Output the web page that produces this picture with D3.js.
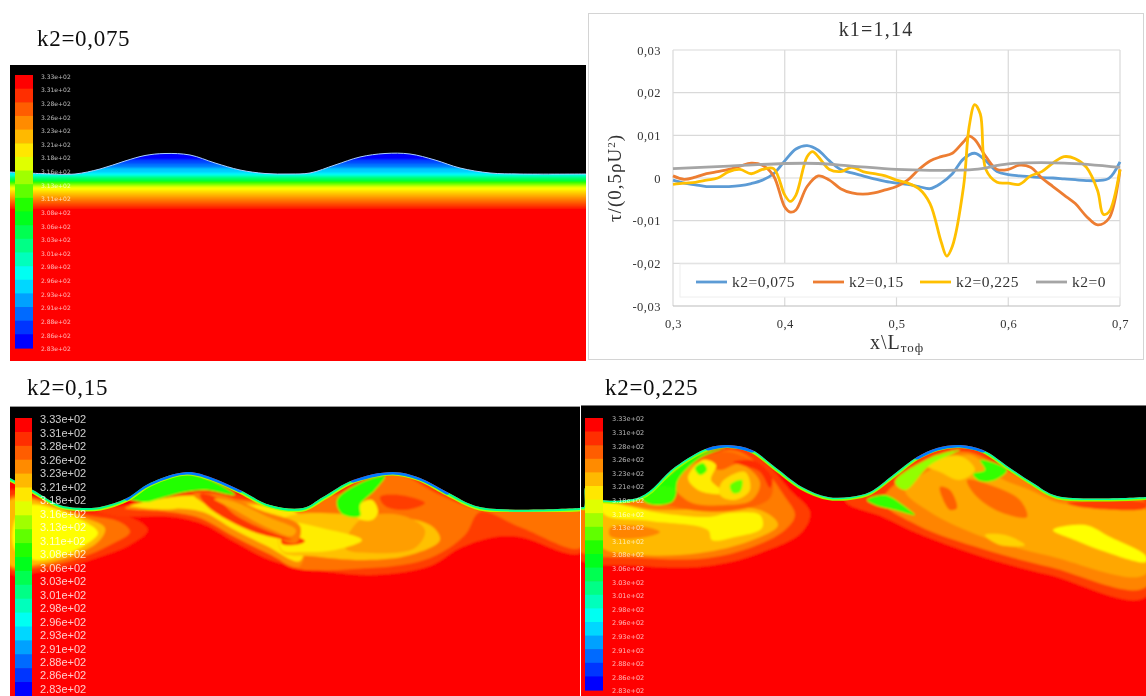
<!DOCTYPE html>
<html><head><meta charset="utf-8">
<script src="https://cdn.jsdelivr.net/npm/d3@7/dist/d3.min.js"></script>
<style>html,body{margin:0;padding:0;background:#fff}svg{display:block}text{font-family:"Liberation Serif",serif}</style>
</head><body><svg id="c" width="1146" height="696"></svg>
<script>
// ---------- chart data ----------
const xTicks=[0.3,0.4,0.5,0.6,0.7];
const yTicks=[-0.03,-0.02,-0.01,0,0.01,0.02,0.03];
const seriesNames=["k2=0,075","k2=0,15","k2=0,225","k2=0"];
const seriesColors=["#5b9bd5","#ed7d31","#ffc000","#a5a5a5"];
const blueX=[.30,.31,.32,.33,.34,.35,.36,.37,.38,.39,.40,.41,.42,.43,.44,.45,.46,.47,.48,.49,.50,.51,.52,.53,.54,.55,.56,.57,.58,.59,.60,.61,.62,.63,.64,.65,.66,.67,.68,.69,.70];
const blueY=[-.0005,-.0012,-.0016,-.002,-.002,-.002,-.0018,-.0013,-.0005,.001,.004,.0068,.0076,.0065,.004,.002,.0012,.0005,-.0002,-.0008,-.0012,-.0015,-.002,-.0025,-.0012,.001,.0045,.0058,.004,.0015,.0008,.0005,.0003,.0001,0,-.0002,-.0004,-.0006,-.0006,-.0001,.0038];
const orangeX=[.30,.31,.32,.33,.34,.35,.36,.37,.38,.39,.40,.405,.41,.42,.43,.44,.45,.46,.47,.48,.49,.50,.51,.52,.53,.54,.55,.56,.565,.57,.58,.59,.60,.61,.62,.63,.64,.65,.66,.67,.68,.69,.70];
const orangeY=[.0005,-.0003,.0002,.001,.0015,.002,.0028,.0035,.003,.0005,-.0068,-.008,-.0075,-.002,.0005,-.0005,-.0025,-.0035,-.0038,-.0035,-.0028,-.002,-.0005,.002,.004,.005,.0058,.0085,.0098,.009,.005,.002,.002,.003,.0025,0,-.002,-.004,-.006,-.009,-.011,-.0095,.002];
const yellowX=[.30,.31,.32,.33,.34,.35,.36,.37,.38,.39,.40,.405,.41,.42,.425,.43,.44,.45,.46,.47,.48,.49,.50,.51,.52,.53,.54,.545,.55,.56,.565,.57,.575,.58,.59,.60,.61,.62,.63,.64,.65,.66,.67,.68,.685,.69,.70];
const yellowY=[-.0015,-.0012,-.001,-.0005,0,.0015,.002,.001,.002,.0022,-.004,-.0055,-.004,.005,.0062,.005,.002,.0015,.0025,.0015,.001,.0005,-.0005,-.0012,-.0025,-.006,-.015,-.0183,-.016,-.002,.012,.0172,.015,.002,-.001,-.0012,-.0015,.0005,.0015,.0035,.005,.0045,.0025,-.003,-.0085,-.008,.002];
const grayX=[.30,.35,.40,.43,.46,.50,.53,.57,.60,.65,.70];
const grayY=[.0022,.0028,.0034,.0034,.0028,.002,.0018,.002,.0033,.0035,.0025];

// ---------- colour bar data ----------
const barLabels=["3.33e+02","3.31e+02","3.28e+02","3.26e+02","3.23e+02","3.21e+02","3.18e+02","3.16e+02","3.13e+02","3.11e+02","3.08e+02","3.06e+02","3.03e+02","3.01e+02","2.98e+02","2.96e+02","2.93e+02","2.91e+02","2.88e+02","2.86e+02","2.83e+02"];
const colorStops=[0,.29,.5,.75,1];
const colorValues=["#ff0000","#ffff00","#00ff00","#00ffff","#0000ff"];

// ---------- field data: level t (0 hot .. 1 cold), contour outline in image units ----------
const surf1=[[10,172],[50,174],[75,174],[100,169],[125,161],[145,155.5],[165,153.5],[190,155],[215,163],[240,170],[265,173.5],[290,174],[310,173],[335,165],[360,157],[385,153.5],[410,154],[435,160],[460,168],[490,173],[520,174],[586,174]];
const bands1T=[1,.93,.88,.8,.75,.68,.6,.5,.42,.35,.29,.25,.21,.17,.13,.09,.05];
const bands1Y=[150,160,164,168,173,175,177,180,183,185,187,190,193,196,199,202,205];
const surf2=[[10,478],[33,490],[60,505],[85,508],[100,507],[127,498],[150,483],[187,472],[210,477],[240,490],[270,505],[303,508],[323,497],[353,480],[393,472],[420,478],[447,492],[480,507],[580,508]];
const layers2=[
 [.06,[[10,490],[40,505],[85,512],[130,517],[148,530],[130,545],[100,557],[70,566],[33,573],[10,573]]],
 [.13,[[10,497],[85,515],[120,522],[130,532],[110,545],[80,558],[35,568],[10,568]]],
 [.21,[[10,500],[85,518],[105,528],[100,540],[75,555],[35,565],[10,565]]],
 [.29,[[30,505],[85,522],[98,533],[85,545],[60,556],[35,560],[15,550],[15,520]]],
 [.07,[[85,508],[130,505],[190,480],[240,495],[285,505],[310,505],[360,480],[395,468],[440,485],[490,506],[580,506],[580,553],[520,537],[495,537],[460,548],[430,566],[370,575],[300,567],[270,560],[233,541],[205,525],[175,517],[120,516]]],
 [.13,[[282,510],[360,490],[395,474],[440,495],[480,510],[580,512],[580,548],[520,527],[480,512],[465,535],[430,558],[370,568],[282,562]]],
 [.16,[[125,508],[190,495],[240,500],[300,512],[300,566],[267,553],[233,536],[200,518],[170,512]]],
 [.26,[[130,506],[190,496],[240,503],[300,516],[300,561],[267,546],[233,529],[203,512],[170,508]]],
 [.22,[[282,520],[360,515],[430,525],[440,540],[410,555],[365,560],[310,556],[282,552]]],
 [.18,[[360,520],[400,515],[425,530],[415,548],[370,553],[345,548]]],
 [.27,[[282,524],[330,530],[362,540],[335,550],[300,552],[282,550]]],
 [.07,[[282,537],[300,538],[305,541],[300,544],[282,544]]],
 [.14,[[193,494],[222,495],[260,510],[300,526],[296,543],[262,530],[230,517],[205,504]]],
 [.06,[[200,494],[215,497],[235,515],[265,530],[292,540],[260,534],[228,520],[206,505]]],
 [.19,[[214,499],[232,501],[268,517],[296,530],[292,536],[262,525],[235,510]]],
 [.26,[[135,506],[165,498],[190,497],[178,508]]],
 [.27,[[358,505],[372,500],[378,512],[372,520],[358,518]]],
 [.07,[[380,497],[400,495],[425,503],[405,510],[385,506]]],
 [.47,[[127,497],[150,482],[187,474],[215,482],[235,495],[205,490],[185,492],[165,497],[145,502]]],
 [.47,[[337,500],[360,483],[385,476],[375,490],[360,505],[360,516],[342,514]]]
];
const strips2=[[.36,7],[.64,4]];
const humps2=[[127,250],[335,460]];
const surf3=[[581,507],[584,507],[585,488],[590,497],[640,497],[675,467],[708,448],[728,445],[752,450],[775,467],[802,487],[828,497],[850,497],[870,492],[893,475],[917,457],[937,448],[960,445],[983,450],[1010,468],[1033,483],[1057,496],[1146,497]];
const layers3=[
 [.07,[[575,490],[640,490],[728,440],[765,462],[790,490],[810,512],[802,532],[760,553],[708,566],[642,566],[575,556]]],
 [.14,[[575,495],[650,495],[728,450],[760,465],[785,497],[795,515],[785,530],[755,546],[708,558],[642,558],[575,548]]],
 [.21,[[590,505],[660,510],[760,510],[778,525],[750,541],[700,553],[640,555],[600,546]]],
 [.28,[[600,503],[660,513],[708,517],[730,513],[760,515],[762,528],[735,537],[712,540],[708,530],[650,521],[605,515]]],
 [.15,[[610,528],[640,526],[660,532],[640,538],[610,536]]],
 [.11,[[650,497],[680,468],[728,452],[770,475],[770,498],[730,511],[680,508]]],
 [.18,[[672,482],[700,462],[720,470],[740,464],[760,482],[752,500],[725,505],[690,502]]],
 [.27,[[688,478],[703,460],[716,465],[711,480],[725,493],[700,491]]],
 [.25,[[722,482],[745,472],[750,490],[735,500],[720,495]]],
 [.45,[[695,468],[703,463],[707,470],[700,475]]],
 [.42,[[730,485],[742,480],[740,492],[733,493]]],
 [.05,[[733,462],[755,461],[772,478],[770,488],[760,472],[745,466]]],
 [.47,[[642,498],[665,478],[695,456],[725,448],[700,458],[678,480],[674,498],[650,504]]],
 [.46,[[642,497],[662,486],[676,490],[672,502],[650,504]]],
 [.07,[[845,500],[960,440],[1010,465],[1057,492],[1146,492],[1146,597],[1050,575],[983,557],[917,533],[883,517]]],
 [.15,[[883,500],[960,452],[1010,472],[1057,497],[1146,503],[1146,587],[1050,567],[983,549],[917,525]]],
 [.19,[[930,470],[970,455],[1000,478],[1030,490],[1060,503],[1146,510],[1146,574],[1050,556],[983,537],[930,512],[905,490]]],
 [.12,[[967,480],[990,485],[1020,500],[1027,517],[1000,512],[975,495]]],
 [.11,[[940,487],[950,490],[957,508],[950,510],[942,497]]],
 [.24,[[985,535],[1005,535],[1025,545],[1000,545]]],
 [.29,[[1053,530],[1085,525],[1110,537],[1146,556],[1146,562],[1100,550],[1075,540]]],
 [.24,[[925,465],[960,456],[975,470],[960,480],[940,472]]],
 [.46,[[867,500],[885,495],[907,508],[915,515],[895,510],[875,505]]],
 [.46,[[973,474],[985,470],[980,460],[1007,470],[995,480],[980,481]]],
 [.38,[[895,482],[930,458],[960,450],[930,465],[905,490]]],
 [.07,[[1067,503],[1146,503],[1146,508],[1080,507]]]
];
const strips3=[[.38,6],[.66,3]];
const humps3=[[690,765],[905,1000]];

// ---------- panel frames ----------
const panels=[
 {x0:10,x1:586,y0:65,y1:361,bx:15,bw:18,by0:75,by1:348,ly0:76.5,ly1:349,lx:41,fs:6,op:.7,ff:"'DejaVu Sans',sans-serif"},
 {x0:10,x1:580,y0:407,y1:696,bx:15,bw:17,by0:418,by1:696,ly0:419.5,ly1:689,lx:40,fs:11,op:.8,ff:"'Liberation Sans',sans-serif"},
 {x0:581,x1:1146,y0:406,y1:696,bx:585,bw:18,by0:418,by1:690,ly0:419,ly1:691,lx:612,fs:6.5,op:.7,ff:"'DejaVu Sans',sans-serif"}
];

const svg=d3.select("#c");
const defs=svg.append("defs");
const blur=(id,s)=>defs.append("filter").attr("id",id).attr("x","-5%").attr("y","-5%").attr("width","110%").attr("height","110%").append("feGaussianBlur").attr("stdDeviation",s);
blur("b1",1.1);blur("b2",.6);blur("b3",.55);blur("b4",.4);
const tColor=d3.scaleLinear().domain(colorStops).range(colorValues).interpolate(d3.interpolateRgb).clamp(true);

function drawField(i,surface,drawInside){
 const p=panels[i];
 const X=d3.scaleLinear().domain([p.x0,p.x1]).range([p.x0,p.x1]);
 const Y=d3.scaleLinear().domain([p.y0,p.y1]).range([p.y0,p.y1]);
 const open=d3.line().x(d=>X(d[0])).y(d=>Y(d[1])).curve(d3.curveCatmullRom.alpha(.5));
 const closed=d3.line().x(d=>X(d[0])).y(d=>Y(d[1])).curve(d3.curveCatmullRomClosed.alpha(.5));
 const g=svg.append("g");
 g.append("rect").attr("x",X(p.x0)).attr("y",Y(p.y0)).attr("width",X(p.x1)-X(p.x0)).attr("height",Y(p.y1)-Y(p.y0)).attr("fill","#000");
 defs.append("clipPath").attr("id","clipS"+i).append("path")
   .attr("d",open(surface)+`L${X(p.x1)},${Y(p.y1)}L${X(p.x0)},${Y(p.y1)}Z`);
 defs.append("clipPath").attr("id","clipP"+i).append("rect").attr("x",X(p.x0)).attr("y",Y(p.y0)).attr("width",X(p.x1)-X(p.x0)).attr("height",Y(p.y1)-Y(p.y0));
 const outer=g.append("g").attr("clip-path",`url(#clipP${i})`);
 const inner=outer.append("g").attr("clip-path",`url(#clipS${i})`);
 const h=inner.append("g").attr("filter","url(#b1)");
 drawInside(h,{X,Y,open,closed,p});
 return {g,inner,X,Y,open,closed,p};
}
function drawBar(ctx){
 const p=ctx.p;
 const g=svg.append("g").attr("clip-path",`url(#clipP${panels.indexOf(p)})`);
 const band=d3.scaleBand().domain(barLabels.slice(0,-1)).range([p.by0,p.by1]);
 const pos=d3.scalePoint().domain(barLabels).range([p.ly0,p.ly1]);
 const k=d3.scaleLinear().domain([0,barLabels.length-2]).range([0,1]);
 g.append("g").attr("filter","url(#b2)").selectAll("rect").data(barLabels.slice(0,-1)).join("rect")
  .attr("x",p.bx).attr("width",p.bw).attr("y",d=>band(d)).attr("height",band.bandwidth()+.6)
  .attr("fill",(d,i)=>tColor(k(i)));
 g.append("g").attr("filter","url(#b4)").selectAll("text").data(barLabels).join("text")
  .attr("x",p.lx).attr("y",d=>pos(d)+p.fs*.36).attr("font-size",p.fs)
  .style("font-family",p.ff).attr("fill","#fff").attr("fill-opacity",p.op).text(d=>d);
}
function layered(h,c,layers){
 h.selectAll("path.l").data(layers).join("path").attr("class","l")
  .attr("d",d=>c.closed(d[1])).attr("fill",d=>tColor(d[0]));
}
function strips(inner,c,surface,strs,humps){
 const s=inner.append("g").attr("filter","url(#b2)");
 strs.forEach(d=>s.append("path").attr("d",c.open(surface)).attr("fill","none").attr("stroke",tColor(d[0])).attr("stroke-width",d[1]));
 humps.forEach(r=>s.append("path").attr("d",c.open(surface.filter(d=>d[0]>=r[0]&&d[0]<=r[1]))).attr("fill","none").attr("stroke",tColor(.88)).attr("stroke-width",5).attr("stroke-linecap","round"));
}

// panel 1
const c1=drawField(0,surf1,(h,c)=>{
 const p=c.p;
 h.append("rect").attr("x",p.x0).attr("y",p.y0).attr("width",p.x1-p.x0).attr("height",p.y1-p.y0).attr("fill","#00f");
 h.selectAll("rect.b").data(bands1T).join("rect").attr("class","b")
  .attr("x",c.X(p.x0)-5).attr("width",c.X(p.x1)-c.X(p.x0)+10)
  .attr("y",(d,i)=>c.Y(bands1Y[i])).attr("height",(d,i)=>c.Y(p.y1)-c.Y(bands1Y[i])+5)
  .attr("fill",d=>tColor(d));
 h.append("rect").attr("x",c.X(p.x0)-5).attr("width",c.X(p.x1)-c.X(p.x0)+10).attr("y",c.Y(208)).attr("height",c.Y(p.y1)-c.Y(208)+5).attr("fill","#f00");
});
svg.append("path").attr("d",c1.open(surf1)).attr("fill","none").attr("stroke","#a8d0ff").attr("stroke-width",1).attr("filter","url(#b3)");
drawBar(c1);

// panel 2
const c2=drawField(1,surf2,(h,c)=>{
 const p=c.p;
 h.append("rect").attr("x",p.x0-5).attr("y",p.y0).attr("width",p.x1-p.x0+10).attr("height",p.y1-p.y0+5).attr("fill","#f00");
 layered(h,c,layers2);
});
strips(c2.inner,c2,surf2,strips2,humps2);
drawBar(c2);

// panel 3
const c3=drawField(2,surf3,(h,c)=>{
 const p=c.p;
 h.append("rect").attr("x",p.x0-5).attr("y",p.y0).attr("width",p.x1-p.x0+10).attr("height",p.y1-p.y0+5).attr("fill","#f00");
 layered(h,c,layers3);
});
strips(c3.inner,c3,surf3,strips3,humps3);
drawBar(c3);
svg.append("line").attr("x1",581).attr("x2",1146).attr("y1",405.5).attr("y2",405.5).attr("stroke","#777");
svg.append("line").attr("x1",10).attr("x2",580).attr("y1",406.5).attr("y2",406.5).attr("stroke","#999");

// panel captions
const caps=[["k2=0,075",37,46],["k2=0,15",27,395],["k2=0,225",605,395]];
svg.append("g").attr("filter","url(#b4)").selectAll("text").data(caps).join("text")
 .attr("x",d=>d[1]).attr("y",d=>d[2]).attr("font-size",23).attr("letter-spacing",.7).attr("fill","#111").text(d=>d[0]);

// line chart
const gc=svg.append("g").attr("filter","url(#b3)");
gc.append("rect").attr("x",588.5).attr("y",13.5).attr("width",555).attr("height",346).attr("fill","#fff").attr("stroke","#d4d4d4");
const x=d3.scaleLinear().domain([.3,.7]).range([673,1120]);
const y=d3.scaleLinear().domain([-.03,.03]).range([306,50]);
const fmtX=d=>d3.format(".1f")(d).replace(".",",");
const fmtY=d=>d===0?"0":d3.format(".2f")(d).replace(".",",").replace("\u2212","-");
gc.append("g").selectAll("line").data(xTicks).join("line").attr("x1",d=>x(d)).attr("x2",d=>x(d)).attr("y1",y(.03)).attr("y2",y(-.03)).attr("stroke","#d9d9d9").attr("stroke-width",1.2);
gc.append("g").selectAll("line").data(yTicks).join("line").attr("x1",x(.3)).attr("x2",x(.7)).attr("y1",d=>y(d)).attr("y2",d=>y(d)).attr("stroke",d=>d===-.03?"#bbb":"#d9d9d9").attr("stroke-width",1.2);
const xAxis=d3.axisBottom(x).tickValues(xTicks).tickFormat(fmtX).tickSize(0).tickPadding(13);
const yAxis=d3.axisLeft(y).tickValues(yTicks).tickFormat(fmtY).tickSize(0).tickPadding(12);
const ax=gc.append("g").attr("transform",`translate(0,${y(-.03)})`).call(xAxis);
const ay=gc.append("g").attr("transform",`translate(${x(.3)},0)`).call(yAxis);
[ax,ay].forEach(a=>{a.select(".domain").remove();a.selectAll("text").attr("font-size",12.5).attr("letter-spacing",.5).attr("fill","#333").style("font-family","'Liberation Serif',serif");});
const lineGen=d3.line().x(d=>x(d[0])).y(d=>y(d[1])).curve(d3.curveCatmullRom.alpha(.5));
const seriesX=[blueX,orangeX,yellowX,grayX],seriesY=[blueY,orangeY,yellowY,grayY];
seriesNames.forEach((n,i)=>{
 gc.append("path").attr("d",lineGen(d3.zip(seriesX[i],seriesY[i]))).attr("fill","none").attr("stroke",seriesColors[i]).attr("stroke-width",2.8);
});
const legendX=[696,813,920,1036];
gc.append("rect").attr("x",680).attr("y",264).attr("width",440).attr("height",33).attr("fill","#fff").attr("stroke","#eeeeee");
seriesNames.forEach((n,i)=>{
 gc.append("line").attr("x1",legendX[i]).attr("x2",legendX[i]+31).attr("y1",282).attr("y2",282).attr("stroke",seriesColors[i]).attr("stroke-width",2.8);
 gc.append("text").attr("x",legendX[i]+36).attr("y",287).attr("font-size",15.5).attr("letter-spacing",.5).attr("fill","#333").text(n);
});
gc.append("text").attr("x",876).attr("y",36).attr("text-anchor","middle").attr("font-size",20).attr("letter-spacing",1.2).attr("fill","#333").text("k1=1,14");
const xt=gc.append("text").attr("x",897).attr("y",349).attr("text-anchor","middle").attr("font-size",20).attr("letter-spacing",1).attr("fill","#333");
xt.append("tspan").text("x\\L");
xt.append("tspan").attr("font-size",13).attr("dy",3).text("тоф");
const yt=gc.append("text").attr("transform",`translate(621,178) rotate(-90)`).attr("text-anchor","middle").attr("font-size",19).attr("letter-spacing",1).attr("fill","#333");
yt.append("tspan").text("τ/(0,5ρU");
yt.append("tspan").attr("font-size",11).attr("dy",-6).text("2");
yt.append("tspan").attr("dy",6).text(")");
</script></body></html>
